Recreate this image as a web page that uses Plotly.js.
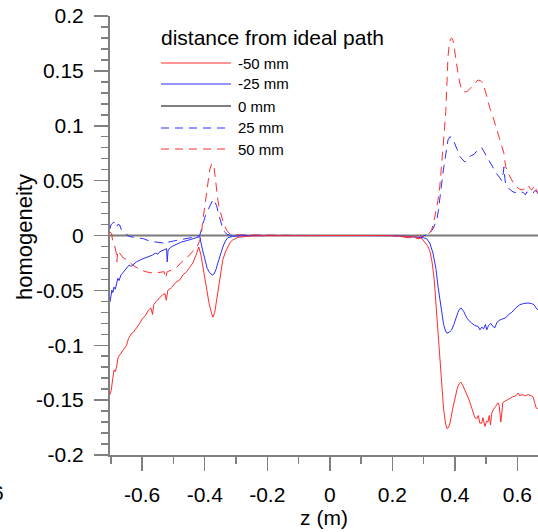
<!DOCTYPE html>
<html>
<head>
<meta charset="utf-8">
<script src="https://cdn.plot.ly/plotly-3.0.1.min.js"></script>
<style>
  html, body { margin: 0; padding: 0; background: #fff; }
  #chart { width: 538px; height: 532px; }
</style>
</head>
<body>
<div id="chart"></div>
<script>
// Field homogeneity along z for several offsets from the ideal path.

const seriesNames = ['-50 mm', '-25 mm', '0 mm', '25 mm', '50 mm'];

const zMinus50 = [
  -0.703, -0.699, -0.694, -0.690, -0.686, -0.682, -0.677, -0.672, -0.666, -0.658,
  -0.650, -0.644, -0.636, -0.628, -0.620, -0.610, -0.600, -0.590, -0.580, -0.572,
  -0.567, -0.563, -0.555, -0.545, -0.535, -0.527, -0.523, -0.518, -0.506, -0.494,
  -0.480, -0.470, -0.458, -0.448, -0.438, -0.428, -0.419, -0.412, -0.406, -0.400,
  -0.394, -0.386, -0.378, -0.374, -0.368, -0.362, -0.357, -0.352, -0.347, -0.342,
  -0.334, -0.326, -0.318, -0.310, -0.298, -0.288, -0.270, -0.250, -0.200, -0.100,
  0.000, 0.100, 0.200, 0.230, 0.260, 0.280, 0.295, 0.304, 0.312, 0.320,
  0.327, 0.334, 0.340, 0.346, 0.352, 0.358, 0.364, 0.370, 0.375, 0.380,
  0.386, 0.393, 0.400, 0.408, 0.414, 0.419, 0.426, 0.432, 0.438, 0.446,
  0.455, 0.464, 0.470, 0.475, 0.480, 0.486, 0.490, 0.496, 0.502, 0.506,
  0.510, 0.514, 0.518, 0.522, 0.530, 0.538, 0.542, 0.547, 0.551, 0.553,
  0.560, 0.566, 0.575, 0.585, 0.595, 0.600, 0.603, 0.607, 0.615, 0.625,
  0.635, 0.645, 0.650, 0.655, 0.660, 0.666
];
const hMinus50 = [
  -0.145, -0.141, -0.130, -0.1225, -0.124, -0.120, -0.111, -0.109, -0.107, -0.103,
  -0.100, -0.094, -0.090, -0.088, -0.085, -0.081, -0.076, -0.073, -0.068, -0.066,
  -0.072, -0.063, -0.060, -0.057, -0.054, -0.053, -0.059, -0.050, -0.0475, -0.043,
  -0.0405, -0.036, -0.033, -0.029, -0.025, -0.018, -0.0105, -0.018, -0.029, -0.040,
  -0.050, -0.062, -0.071, -0.0745, -0.070, -0.059, -0.050, -0.0405, -0.031, -0.022,
  -0.015, -0.0105, -0.006, -0.004, -0.0022, -0.0015, -0.0008, -0.0004, -0.0002, 0.0,
  0.0, 0.0, -0.0002, -0.0005, -0.001, -0.0015, -0.003, -0.006, -0.009, -0.014,
  -0.024, -0.040, -0.065, -0.090, -0.113, -0.137, -0.158, -0.171, -0.176, -0.175,
  -0.169, -0.158, -0.148, -0.139, -0.135, -0.1335, -0.137, -0.141, -0.1435, -0.150,
  -0.158, -0.166, -0.167, -0.164, -0.171, -0.171, -0.166, -0.174, -0.169, -0.170,
  -0.164, -0.1725, -0.162, -0.159, -0.156, -0.1525, -0.155, -0.170, -0.160, -0.1525,
  -0.151, -0.150, -0.148, -0.147, -0.146, -0.1445, -0.1435, -0.146, -0.145, -0.146,
  -0.145, -0.146, -0.147, -0.152, -0.157, -0.158
];

const zMinus25 = [
  -0.703, -0.700, -0.697, -0.694, -0.690, -0.686, -0.682, -0.678, -0.674, -0.668,
  -0.662, -0.656, -0.650, -0.642, -0.635, -0.628, -0.618, -0.605, -0.592, -0.580,
  -0.568, -0.558, -0.550, -0.545, -0.530, -0.522, -0.520, -0.517, -0.505, -0.490,
  -0.475, -0.455, -0.435, -0.420, -0.416, -0.408, -0.400, -0.392, -0.384, -0.376,
  -0.370, -0.364, -0.358, -0.350, -0.342, -0.334, -0.326, -0.310, -0.280, -0.200,
  -0.100, 0.000, 0.100, 0.200, 0.250, 0.280, 0.300, 0.310, 0.320, 0.330,
  0.340, 0.346, 0.352, 0.358, 0.364, 0.370, 0.375, 0.382, 0.390, 0.397,
  0.403, 0.410, 0.415, 0.420, 0.428, 0.438, 0.450, 0.464, 0.475, 0.480,
  0.486, 0.492, 0.498, 0.502, 0.508, 0.515, 0.522, 0.528, 0.535, 0.544,
  0.553, 0.563, 0.572, 0.582, 0.595, 0.608, 0.620, 0.634, 0.645, 0.653,
  0.660, 0.666
];
const hMinus25 = [
  -0.0606, -0.055, -0.0497, -0.052, -0.047, -0.049, -0.042, -0.039, -0.041, -0.036,
  -0.034, -0.032, -0.029, -0.027, -0.028, -0.026, -0.024, -0.022, -0.0205, -0.019,
  -0.018, -0.016, -0.017, -0.015, -0.013, -0.012, -0.024, -0.013, -0.010, -0.008,
  -0.006, -0.0045, -0.003, -0.0015, -0.001, -0.012, -0.022, -0.030, -0.034, -0.036,
  -0.035, -0.031, -0.025, -0.017, -0.0105, -0.005, -0.002, -0.0008, -0.0003, 0.0,
  0.0, 0.0, 0.0, -0.0002, -0.0008, -0.0012, -0.002, -0.003, -0.007, -0.016,
  -0.031, -0.046, -0.059, -0.071, -0.081, -0.087, -0.089, -0.088, -0.086, -0.081,
  -0.075, -0.070, -0.067, -0.066, -0.069, -0.075, -0.079, -0.082, -0.083, -0.086,
  -0.0835, -0.085, -0.081, -0.086, -0.082, -0.080, -0.083, -0.084, -0.079, -0.077,
  -0.076, -0.075, -0.072, -0.070, -0.066, -0.063, -0.062, -0.0615, -0.062, -0.063,
  -0.066, -0.068
];

const zZero = [-0.703, 0.666];
const hZero = [0, 0];

const zPlus25 = [
  -0.703, -0.700, -0.696, -0.690, -0.686, -0.682, -0.678, -0.672, -0.668, -0.660,
  -0.650, -0.640, -0.628, -0.610, -0.595, -0.578, -0.560, -0.545, -0.530, -0.522,
  -0.515, -0.500, -0.480, -0.460, -0.440, -0.425, -0.416, -0.410, -0.406, -0.398,
  -0.390, -0.384, -0.378, -0.373, -0.368, -0.362, -0.356, -0.349, -0.342, -0.336,
  -0.328, -0.320, -0.200, -0.100, 0.000, 0.100, 0.200, 0.240, 0.270, 0.290,
  0.305, 0.315, 0.320, 0.330, 0.338, 0.342, 0.347, 0.352, 0.357, 0.362,
  0.367, 0.371, 0.375, 0.378, 0.384, 0.390, 0.395, 0.400, 0.408, 0.416,
  0.424, 0.432, 0.440, 0.448, 0.454, 0.462, 0.470, 0.478, 0.486, 0.494,
  0.502, 0.512, 0.522, 0.532, 0.544, 0.550, 0.555, 0.557, 0.560, 0.563,
  0.572, 0.586, 0.597, 0.608, 0.618, 0.626, 0.630, 0.640, 0.650, 0.656,
  0.662, 0.666
];
const hPlus25 = [
  0.006, 0.0096, 0.011, 0.0123, 0.009, 0.0078, 0.010, 0.0096, 0.006, 0.003,
  0.001, -0.001, -0.0015, -0.002, -0.003, -0.005, -0.006, -0.0065, -0.007, -0.005,
  -0.006, -0.005, -0.004, -0.003, -0.002, -0.001, 0.0, 0.006, 0.011, 0.018,
  0.023, 0.027, 0.031, 0.033, 0.031, 0.027, 0.020, 0.012, 0.006, 0.003,
  0.001, 0.0003, 0.0, 0.0, 0.0, 0.0, 0.0, -0.0008, -0.002, -0.0015,
  0.0, 0.001, 0.002, 0.006, 0.011, 0.014, 0.022, 0.032, 0.045, 0.057,
  0.067, 0.075, 0.082, 0.087, 0.090, 0.089, 0.087, 0.084, 0.078, 0.072,
  0.069, 0.067, 0.069, 0.072, 0.073, 0.074, 0.077, 0.079, 0.080, 0.076,
  0.072, 0.067, 0.0625, 0.057, 0.0525, 0.050, 0.057, 0.0625, 0.052, 0.046,
  0.043, 0.0397, 0.039, 0.0385, 0.0395, 0.037, 0.0397, 0.039, 0.0385, 0.041,
  0.040, 0.038
];

const zPlus50 = [
  -0.703, -0.698, -0.695, -0.690, -0.686, -0.683, -0.681, -0.678, -0.673, -0.666,
  -0.660, -0.650, -0.642, -0.630, -0.615, -0.600, -0.588, -0.572, -0.556, -0.540,
  -0.530, -0.525, -0.520, -0.506, -0.490, -0.475, -0.458, -0.440, -0.425, -0.415,
  -0.410, -0.406, -0.400, -0.394, -0.388, -0.384, -0.378, -0.374, -0.370, -0.366,
  -0.362, -0.358, -0.352, -0.346, -0.338, -0.330, -0.320, -0.314, -0.200, -0.100,
  0.000, 0.100, 0.200, 0.230, 0.250, 0.270, 0.285, 0.295, 0.305, 0.315,
  0.326, 0.336, 0.346, 0.352, 0.358, 0.362, 0.366, 0.371, 0.375, 0.378,
  0.382, 0.386, 0.390, 0.394, 0.397, 0.400, 0.405, 0.410, 0.416, 0.422,
  0.430, 0.438, 0.446, 0.454, 0.462, 0.468, 0.474, 0.482, 0.490, 0.498,
  0.506, 0.514, 0.522, 0.532, 0.544, 0.552, 0.557, 0.560, 0.563, 0.570,
  0.576, 0.582, 0.590, 0.598, 0.608, 0.618, 0.626, 0.634, 0.640, 0.646,
  0.652, 0.656, 0.660, 0.666
];
const hPlus50 = [
  0.003, 0.002, -0.004, -0.007, -0.012, -0.016, -0.024, -0.014, -0.016, -0.018,
  -0.0205, -0.022, -0.024, -0.027, -0.0297, -0.032, -0.033, -0.034, -0.034, -0.033,
  -0.033, -0.039, -0.033, -0.0315, -0.029, -0.0245, -0.0205, -0.015, -0.0105, -0.004,
  0.003, 0.014, 0.028, 0.0415, 0.053, 0.0597, 0.065, 0.066, 0.062, 0.052,
  0.041, 0.032, 0.023, 0.017, 0.010, 0.005, 0.0015, 0.0005, 0.0, 0.0,
  0.0, 0.0, 0.0, -0.001, -0.002, -0.002, -0.003, -0.001, -0.001, 0.001,
  0.005, 0.017, 0.032, 0.045, 0.0625, 0.080, 0.093, 0.113, 0.140, 0.1626,
  0.174, 0.179, 0.180, 0.178, 0.173, 0.166, 0.156, 0.148, 0.139, 0.1325,
  0.131, 0.131, 0.133, 0.1355, 0.138, 0.140, 0.1417, 0.141, 0.139, 0.131,
  0.1216, 0.114, 0.108, 0.098, 0.087, 0.080, 0.075, 0.068, 0.0625, 0.057,
  0.053, 0.0506, 0.047, 0.0443, 0.042, 0.0415, 0.044, 0.046, 0.043, 0.0415,
  0.044, 0.046, 0.042, 0.0385
];

const xTickVals = [-0.6, -0.4, -0.2, 0, 0.2, 0.4, 0.6];
const xTickText = ['-0.6', '-0.4', '-0.2', '0', '0.2', '0.4', '0.6'];
const yTickVals = [-0.2, -0.15, -0.1, -0.05, 0, 0.05, 0.1, 0.15, 0.2];
const yTickText = ['-0.2', '-0.15', '-0.1', '-0.05', '0', '0.05', '0.1', '0.15', '0.2'];

const RED = 'rgb(255,45,45)';
const BLUE = 'rgb(45,45,255)';
const AXIS = '#808080';
const FONT = 'Liberation Sans, Arial, sans-serif';

const styles = [
  { color: RED,  dash: 'solid', width: 1 },
  { color: BLUE, dash: 'solid', width: 1 },
  { color: '#7a7a7a', dash: 'solid', width: 2 },
  { color: BLUE, dash: '9px,6px', width: 1 },
  { color: RED,  dash: '9px,6px', width: 1 }
];
const legendColors = [RED, BLUE, '#000000', BLUE, RED];

const xs = [zMinus50, zMinus25, zZero, zPlus25, zPlus50];
const ys = [hMinus50, hMinus25, hZero, hPlus25, hPlus50];

const drawOrder = [2, 3, 4, 1, 0];
const traces = drawOrder.map(i => ({
  type: 'scatter',
  mode: 'lines',
  name: seriesNames[i],
  x: xs[i],
  y: ys[i],
  line: { color: styles[i].color, dash: styles[i].dash, width: styles[i].width },
  hoverinfo: 'skip',
  showlegend: false
}));

// Page geometry
const W = 538, H = 532;
const M = { l: 110, r: 0, t: 16, b: 77 };
const plotW = W - M.l - M.r, plotH = H - M.t - M.b;
const px = x => (x - M.l) / plotW;
const py = y => (H - M.b - y) / plotH;

// Hand-laid legend block
const legendLeft = 161, sampleLen = 70, labelLeft = 238;
const rowY = [63, 84, 106, 128, 149];
const shapes = [];
const annotations = [{
  text: 'distance from ideal path', xref: 'paper', yref: 'paper',
  x: px(legendLeft - 2), y: py(38), xanchor: 'left', yanchor: 'middle',
  showarrow: false, font: { family: FONT, size: 21, color: '#000' }
}];
seriesNames.forEach((name, i) => {
  shapes.push({
    type: 'line', xref: 'paper', yref: 'paper',
    x0: px(legendLeft), x1: px(legendLeft + sampleLen), y0: py(rowY[i]), y1: py(rowY[i]),
    line: { color: legendColors[i], width: 1, dash: styles[i].dash === 'solid' ? 'solid' : '8px,6px' }
  });
  annotations.push({
    text: name, xref: 'paper', yref: 'paper',
    x: px(labelLeft - 2), y: py(rowY[i]), xanchor: 'left', yanchor: 'middle',
    showarrow: false, font: { family: FONT, size: 15, color: '#000' }
  });
});
// Vertical axis caption
annotations.push({
  text: 'homogeneity', xref: 'paper', yref: 'paper',
  x: px(24), y: py(237), xanchor: 'center', yanchor: 'middle', textangle: -90,
  showarrow: false, font: { family: FONT, size: 22, color: '#000' }
});
// Neighbouring tick label at the left page edge
annotations.push({
  text: '6', xref: 'paper', yref: 'paper',
  x: px(6), y: py(492), xanchor: 'right', yanchor: 'middle',
  showarrow: false, font: { family: FONT, size: 21, color: '#000' }
});

const layout = {
  width: W, height: H,
  margin: M,
  paper_bgcolor: '#fff', plot_bgcolor: '#fff',
  font: { family: FONT, size: 21, color: '#000' },
  showlegend: false,
  xaxis: {
    range: [-0.703, 0.666],
    tickmode: 'array', tickvals: xTickVals, ticktext: xTickText,
    ticks: 'outside', ticklen: 14, tickwidth: 1.5, tickcolor: AXIS,
    minor: { dtick: 0.1, tick0: 0, ticks: 'outside', ticklen: 7, tickwidth: 1.5, tickcolor: AXIS },
    showline: true, linecolor: AXIS, linewidth: 2,
    showgrid: false, zeroline: false,
    tickfont: { family: FONT, size: 21, color: '#000' },
    ticklabelstandoff: 6,
    title: { text: 'z (m)', font: { family: FONT, size: 21, color: '#000' }, standoff: 0 },
    automargin: false
  },
  yaxis: {
    range: [-0.2, 0.2],
    tickmode: 'array', tickvals: yTickVals, ticktext: yTickText,
    ticks: 'outside', ticklen: 14, tickwidth: 1.5, tickcolor: AXIS,
    minor: { dtick: 0.01, tick0: 0, ticks: 'outside', ticklen: 7, tickwidth: 1.5, tickcolor: AXIS },
    showline: true, linecolor: AXIS, linewidth: 2,
    showgrid: false, zeroline: false,
    tickfont: { family: FONT, size: 21, color: '#000' },
    ticklabelstandoff: 6,
    automargin: false
  },
  shapes: shapes,
  annotations: annotations
};

Plotly.newPlot('chart', traces, layout, { staticPlot: true, displayModeBar: false });
</script>
</body>
</html>
